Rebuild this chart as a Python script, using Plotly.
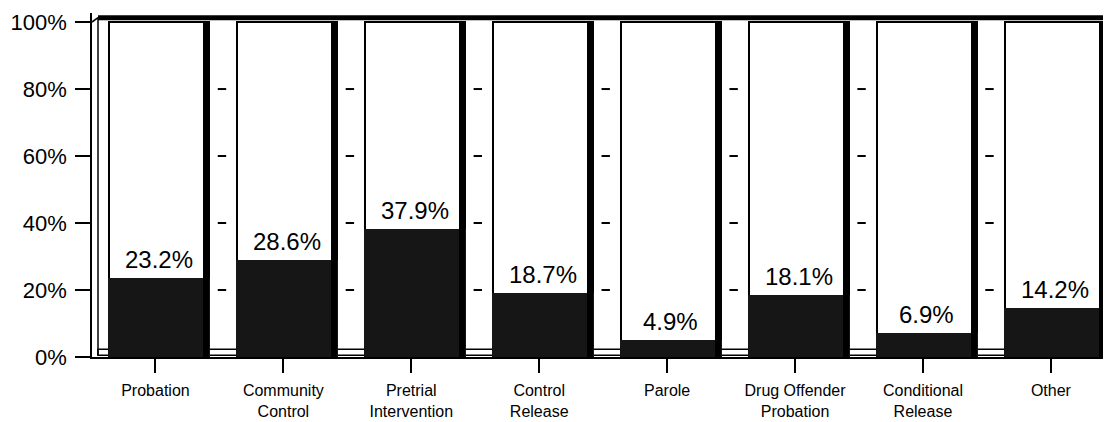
import plotly.graph_objects as go

categories = ["Probation", "Community<br>Control", "Pretrial<br>Intervention", "Control<br>Release",
              "Parole", "Drug Offender<br>Probation", "Conditional<br>Release", "Other"]
values = [23.2, 28.6, 37.9, 18.7, 4.9, 18.1, 6.9, 14.2]
y_ticks = [0, 20, 40, 60, 80, 100]
y_ticktext = ["0%", "20%", "40%", "60%", "80%", "100%"]

FONT = "Liberation Sans, Arial, Helvetica, sans-serif"
x = list(range(len(categories)))
full = [100] * len(categories)

fig = go.Figure()
# white back portion of each bar
fig.add_trace(go.Bar(x=x, y=full, width=0.78, offset=-0.36,
                     marker=dict(color="white", line=dict(color="black", width=2)),
                     hoverinfo="skip", showlegend=False))
# dark share
fig.add_trace(go.Bar(x=x, y=values, width=0.78, offset=-0.36,
                     marker=dict(color="#161616", line=dict(color="#161616", width=2)),
                     hoverinfo="skip", showlegend=False))
# thick right side of each bar
fig.add_trace(go.Bar(x=x, y=full, width=0.045, offset=0.375,
                     marker=dict(color="black", line=dict(width=0)),
                     hoverinfo="skip", showlegend=False))
# small grid dashes in the gaps
gx, gy = [], []
for i in x:
    for t in y_ticks[1:-1]:
        gx.append(i + 0.52)
        gy.append(t)
fig.add_trace(go.Scatter(x=gx, y=gy, mode="markers",
                         marker=dict(symbol="line-ew", size=6, line=dict(width=2, color="black")),
                         hoverinfo="skip", showlegend=False))

annotations = [
    dict(x=i + 0.03, y=v, xref="x", yref="y", text=f"{v}%", showarrow=False,
         yanchor="bottom", yshift=4, font=dict(family=FONT, size=24, color="black"))
    for i, v in zip(x, values)
]

shapes = [
    # floor strip
    dict(type="rect", xref="x", yref="y", x0=-0.45, x1=7.6, y0=0.5, y1=2.3,
         line=dict(color="black", width=1.5), fillcolor="white", layer="below"),
    # left wall inner line
    dict(type="line", xref="x", yref="y", x0=-0.449, x1=-0.449, y0=0.5, y1=101.3,
         line=dict(color="black", width=1.5)),
    # top back edge
    dict(type="line", xref="x", yref="y", x0=-0.449, x1=7.6, y0=101.3, y1=101.3,
         line=dict(color="black", width=5)),
    dict(type="line", xref="x", yref="y", x0=-0.496, x1=-0.449, y0=100, y1=101.3,
         line=dict(color="black", width=1.5)),
]

# the page body adds an 8px offset, so the figure is sized and placed to compensate
fig.update_layout(
    width=1103, height=414,
    margin=dict(l=84, r=0, t=5, b=65),
    paper_bgcolor="white", plot_bgcolor="white",
    barmode="overlay", bargap=0,
    font=dict(family=FONT, color="black"),
    shapes=shapes, annotations=annotations,
    xaxis=dict(range=[-0.496, 7.47], tickvals=x, ticktext=categories,
               ticks="outside", ticklen=14, tickwidth=1.5, tickcolor="black",
               ticklabelstandoff=4,
               tickfont=dict(size=16), showgrid=False, zeroline=False,
               showline=True, linecolor="black", linewidth=2),
    yaxis=dict(range=[0, 102.7], tickvals=y_ticks, ticktext=y_ticktext,
               ticks="outside", ticklen=15, tickwidth=1.5, tickcolor="black",
               ticklabelstandoff=4,
               tickfont=dict(size=22), showgrid=False, zeroline=False,
               showline=True, linecolor="black", linewidth=1.5),
)

fig.write_html("out.html")
